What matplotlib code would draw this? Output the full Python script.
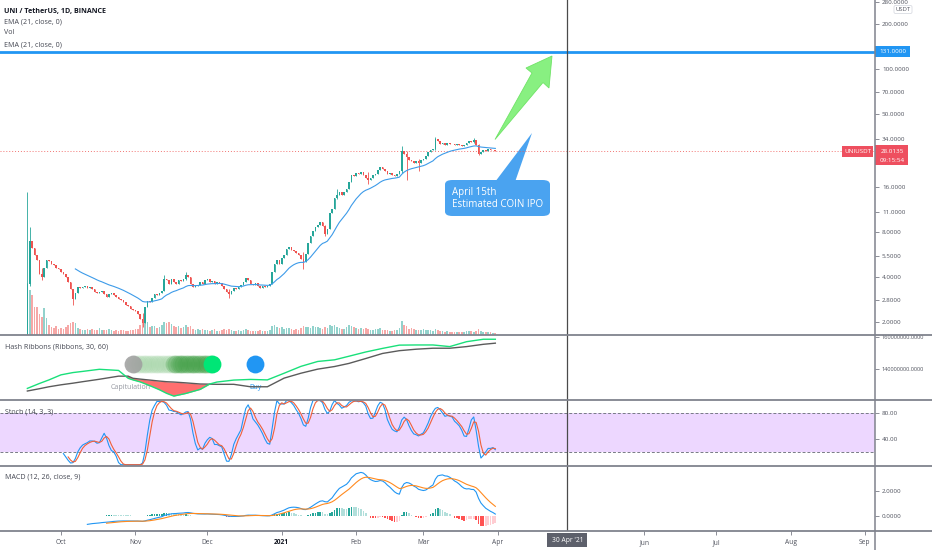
import numpy as np
import pandas as pd
import matplotlib
matplotlib.use('Agg')
import matplotlib.pyplot as plt
import matplotlib.dates as mdates
import matplotlib.ticker as mticker
from matplotlib.patches import Polygon, Rectangle, FancyBboxPatch
from matplotlib.lines import Line2D

plt.rcParams['font.family'] = ['Open Sans', 'DejaVu Sans']

# ------------------------------------------------------------------ data
start_date = '2020-09-17'
first_open = 1.2
closes = [
    3.6, 7.0, 6.3, 5.6, 5.2, 4.2, 4.0, 4.6, 5.2, 5.1,
    4.9, 4.8, 4.6, 4.5, 4.3, 4.2, 4.0, 3.7, 3.3, 2.85,
    3.1, 3.4, 3.35, 3.4, 3.45, 3.35, 3.4, 3.3, 3.15, 3.1,
    3.15, 3.2, 3.05, 2.95, 3.05, 3.1, 3.0, 2.95, 2.85, 2.8,
    2.7, 2.6, 2.55, 2.45, 2.4, 2.35, 2.25, 2.1, 1.95, 2.5,
    2.75, 2.7, 2.9, 3.05, 3.0, 3.1, 3.2, 3.9, 3.8, 3.6,
    3.85, 3.7, 3.6, 3.8, 3.75, 3.85, 4.15, 4.0, 3.6, 3.4,
    3.5, 3.55, 3.7, 3.6, 3.8, 3.85, 3.7, 3.75, 3.6, 3.7,
    3.65, 3.5, 3.3, 3.15, 3.05, 3.2, 3.35, 3.3, 3.4, 3.55,
    3.7, 3.95, 3.8, 3.6, 3.55, 3.65, 3.45, 3.35, 3.5, 3.4,
    3.45, 3.6, 4.3, 4.9, 5.2, 4.9, 5.4, 5.6, 6.2, 6.4,
    6.1, 6.0, 5.8, 5.6, 5.3, 5.0, 5.7, 6.8, 7.5, 8.2,
    8.6, 9.0, 9.3, 8.8, 7.8, 8.4, 10.8, 11.5, 13.5, 14.2,
    14.8, 14.3, 15.0, 15.5, 17.5, 19.5, 19.2, 20.0, 19.6, 20.2,
    19.5, 18.6, 17.8, 18.5, 19.3, 19.8, 21.0, 22.0, 21.3, 20.5,
    19.6, 20.0, 19.4, 19.2, 19.8, 20.5, 28.0, 27.0, 25.5, 24.5,
    24.0, 23.5, 24.0, 23.3, 24.5, 24.8, 26.0, 27.5, 28.5, 28.8,
    33.8, 33.0, 31.5, 31.8, 31.0, 32.0, 31.5, 31.2, 30.8, 31.5,
    31.0, 30.5, 31.0, 32.0, 33.0, 32.5, 33.2, 31.0, 27.0, 27.5,
    28.5, 28.3, 28.8, 28.5, 28.6, 28.0135]
volumes = [
    52, 45, 40, 28, 28, 21, 18, 27, 17, 10,
    8, 7, 9, 6, 7, 6, 8, 10, 12, 13,
    12, 7, 6, 5, 5, 6, 5, 6, 5, 5,
    7, 5, 5, 5, 6, 5, 4, 5, 4, 5,
    5, 4, 4, 5, 5, 6, 6, 10, 15, 20,
    13, 8, 9, 9, 7, 8, 10, 13, 12, 13,
    11, 9, 8, 9, 7, 8, 10, 8, 9, 6,
    5, 6, 5, 6, 5, 5, 4, 5, 6, 4,
    4, 5, 6, 5, 6, 5, 4, 4, 5, 4,
    5, 6, 5, 4, 4, 4, 4, 5, 4, 4,
    4, 5, 9, 10, 8, 7, 8, 6, 7, 7,
    6, 5, 6, 5, 7, 9, 8, 8, 7, 9,
    8, 8, 7, 6, 8, 7, 10, 9, 10, 8,
    7, 6, 6, 8, 10, 9, 8, 7, 6, 7,
    6, 7, 6, 5, 5, 6, 6, 7, 5, 5,
    5, 4, 4, 5, 5, 7, 14, 10, 9, 6,
    7, 6, 5, 5, 5, 6, 5, 5, 5, 4,
    6, 5, 4, 4, 3, 4, 3, 3, 3, 3,
    3, 3, 3, 4, 4, 4, 3, 4, 6, 4,
    3, 3, 3, 3, 2, 2]
wick_idx = [0, 1, 6, 19, 48, 57, 66, 84, 115, 124, 129, 142, 156, 158, 163, 170, 186, 188]
wick_high = [15.0, 8.6, 4.6, 3.3, 2.3, 4.1, 4.3, 3.3, 5.9, 9.0, 15.6, 20.3, 30.5, 28.0, 24.8, 35.0, 34.5, 31.5]
wick_low = [1.2, 3.5, 3.8, 2.6, 1.85, 3.2, 3.8, 2.9, 4.5, 7.5, 13.4, 16.8, 20.0, 18.0, 20.5, 28.5, 32.0, 26.5]

# Hash Ribbons (hash rate, in millions), read at bar indices
hash_idx = [0, 5, 9, 14, 19, 23, 30, 38, 42, 44, 47, 51, 55, 58, 61, 66, 72, 76, 79, 86,
            93, 100, 107, 114, 121, 128, 134, 141, 148, 155, 162, 169, 176, 183, 190, 195]
hash_fast = [128.3, 131.3, 133.5, 136.6, 138.0, 138.7, 140.0, 139.3, 134.5, 133.5, 132.3, 130.0,
             127.5, 125.3, 123.6, 125.2, 127.7, 131.0, 132.2, 133.4, 133.8, 133.5, 137.6, 141.8,
             144.8, 145.8, 148.0, 150.6, 152.8, 154.8, 154.9, 154.9, 153.9, 156.9, 158.4, 158.4]
hash_slow = [126.7, 128.1, 129.3, 130.5, 131.5, 132.4, 133.9, 135.8, 135.8, 134.5, 134.0, 133.4,
             132.8, 132.4, 132.2, 131.7, 131.0, 130.9, 130.8, 130.8, 129.3, 129.3, 134.6, 137.6,
             140.1, 141.7, 143.6, 146.6, 149.7, 151.4, 152.3, 152.9, 152.9, 153.9, 155.3, 156.0]
cap_first_idx = [44]
cap_falling_idx = list(range(45, 61))
cap_rising_idx = list(range(61, 77))
cap_end_idx = [77]
buy_idx = [95]

price_ticks = [2, 2.8, 4, 5.5, 8, 11, 16, 34, 50, 70, 100, 200, 280]
target_price = 131.0
last_price_label = '28.0135'
countdown = '09:15:54'
marker_date = '2021-04-30'
month_ticks = ['2020-10-01', '2020-11-01', '2020-12-01', '2021-01-01', '2021-02-01',
               '2021-03-01', '2021-04-01', '2021-06-01', '2021-07-01', '2021-08-01', '2021-09-01']
month_labels = ['Oct', 'Nov', 'Dec', '2021', 'Feb', 'Mar', 'Apr', 'Jun', 'Jul', 'Aug', 'Sep']

# ------------------------------------------------------------------ helpers
GREEN = '#26a69a'
RED = '#ef5350'
BLUE = '#2196f3'
AXC = '#50535e'
SEP = '#80838d'
FS_AX = 4.5
FS_LEG = 5.1


def ema_sma_seed(vals, n):
    vals = np.asarray(vals, float)
    out = np.full(len(vals), np.nan)
    first = np.argmax(~np.isnan(vals))
    if len(vals) - first < n:
        return out
    a = 2.0 / (n + 1)
    out[first + n - 1] = np.mean(vals[first:first + n])
    for k in range(first + n, len(vals)):
        out[k] = a * vals[k] + (1 - a) * out[k - 1]
    return out


W, H = 932, 550
fig = plt.figure(figsize=(W / 100, H / 100), dpi=100)
fig.patch.set_facecolor('white')


def fr(px0, py0, px1, py1):
    return [px0 / W, 1 - py1 / H, (px1 - px0) / W, (py1 - py0) / H]


XR = 875
ax = fig.add_axes(fr(0, 0, XR, 335))
axh = fig.add_axes(fr(0, 335, XR, 400), sharex=ax)
axs = fig.add_axes(fr(0, 400, XR, 466), sharex=ax)
axm = fig.add_axes(fr(0, 466, XR, 531), sharex=ax)

dates = pd.date_range(start_date, periods=len(closes), freq='D')
x = mdates.date2num(dates)
oct1 = mdates.date2num(pd.Timestamp('2020-10-01'))
xlim = (oct1 - 25.4, oct1 + 339.2)

c = np.array(closes, float)
o = np.array([first_open] + closes[:-1], float)
up = c >= o
cols = np.where(up, GREEN, RED)
hi = np.maximum(o, c)
lo = np.minimum(o, c)
hi_w = hi.copy()
lo_w = lo.copy()
for k, hh, ll in zip(wick_idx, wick_high, wick_low):
    hi_w[k] = max(hi_w[k], hh)
    lo_w[k] = min(lo_w[k], ll)

# ---- volume (twin)
axv = ax.twinx()
vcols = [(38 / 255, 166 / 255, 154 / 255, 0.5) if u else (239 / 255, 83 / 255, 80 / 255, 0.5) for u in up]
axv.bar(x, volumes, width=0.7, color=vcols, lw=0)
axv.set_ylim(0, 335)
axv.axis('off')
ax.set_zorder(axv.get_zorder() + 1)

for a in (ax, axh, axs, axm):
    for s in a.spines.values():
        s.set_visible(False)
    a.yaxis.tick_right()
    a.yaxis.set_label_position('right')
    a.tick_params(axis='y', which='both', left=False, labelleft=False, right=True, labelright=True,
                  direction='out', length=3, width=0.6, color='#787b86',
                  labelsize=FS_AX, labelcolor=AXC, pad=2)
    a.tick_params(axis='x', which='both', bottom=False, labelbottom=False)
    a.patch.set_visible(False)

# ---- candles
ax.set_yscale('log')
ax.vlines(x, lo_w, hi_w, colors=cols, lw=0.6, zorder=3)
ax.bar(x, hi - lo, bottom=lo, width=0.7, color=cols, lw=0, zorder=4)
ema21 = ema_sma_seed(c, 21)
ax.plot(x, ema21, color='#3d9be9', lw=0.8, zorder=5)
ax.axhline(target_price, color=BLUE, lw=2, zorder=6)
ax.axhline(c[-1], color=RED, lw=0.7, ls=(0, (1, 2)), alpha=0.8, zorder=2)
ax.set_ylim(1.627, 291.0)
ax.yaxis.set_major_locator(mticker.FixedLocator(price_ticks))
ax.yaxis.set_minor_locator(mticker.NullLocator())
ax.yaxis.set_major_formatter(mticker.FuncFormatter(lambda v, p: f'{v:.4f}'))
ax.set_xlim(*xlim)

# ---- hash ribbons
hx = x[hash_idx]
hf = np.array(hash_fast) * 1e6
hs = np.array(hash_slow) * 1e6
axh.text(x[43], 129.1e6, 'Capitulation', fontsize=5.0, color='#9598a1', ha='center', va='center', zorder=1)
axh.fill_between(hx, hf, hs, where=hf < hs, interpolate=True, color='#ff5f5f', alpha=0.9, lw=0, zorder=2)
axh.plot(hx, hs, color='#5b5b5b', lw=1.0, zorder=3)
axh.plot(hx, hf, color='#19e07a', lw=1.0, zorder=4)
dot_y = 143.3e6
DS = 165
axh.scatter(x[cap_falling_idx], [dot_y] * len(cap_falling_idx), s=DS, color='#a5d6a7', alpha=0.22, lw=0, zorder=5)
axh.scatter(x[cap_rising_idx], [dot_y] * len(cap_rising_idx), s=DS, color='#43a047', alpha=0.3, lw=0, zorder=5)
axh.scatter(x[cap_first_idx], [dot_y], s=DS, color='#9e9e9e', alpha=0.85, lw=0, zorder=6)
axh.scatter(x[cap_end_idx], [dot_y], s=DS, color='#00e676', lw=0, zorder=6)
axh.scatter(x[buy_idx], [dot_y], s=DS, color=BLUE, lw=0, zorder=6)
axh.text(x[buy_idx[0]], 129.1e6, 'Buy', fontsize=5.0, color=BLUE, ha='center', va='center', zorder=1)
axh.set_ylim(121.2e6, 161e6)
axh.yaxis.set_major_locator(mticker.FixedLocator([140e6, 160e6]))
axh.yaxis.set_major_formatter(mticker.FuncFormatter(lambda v, p: f'{v:.4f}'))
axh.tick_params(axis='y', labelsize=4.1)
axh.text(5 / XR, 1 - 12 / 65, 'Hash Ribbons (Ribbons, 30, 60)', transform=axh.transAxes,
         fontsize=FS_LEG, color='#434651', va='center', ha='left')

# ---- stochastic
hh14 = pd.Series(hi_w).rolling(14).max()
ll14 = pd.Series(lo_w).rolling(14).min()
kraw = 100 * (pd.Series(c) - ll14) / (hh14 - ll14)
kline = kraw.rolling(3).mean()
dline = kline.rolling(3).mean()
axs.axhspan(20, 80, color=(0.6, 0.08, 1.0), alpha=0.17, lw=0)
axs.axhline(80, color='#787b86', lw=0.7, ls=(0, (3, 2)))
axs.axhline(20, color='#787b86', lw=0.7, ls=(0, (3, 2)))
axs.plot(x, kline, color=BLUE, lw=0.8)
axs.plot(x, dline, color='#f0603a', lw=0.8)
axs.set_ylim(-2, 100.8)
axs.yaxis.set_major_locator(mticker.FixedLocator([40, 80]))
axs.yaxis.set_major_formatter(mticker.FuncFormatter(lambda v, p: f'{v:.2f}'))
axs.text(5 / XR, 1 - 12 / 66, 'Stoch (14, 3, 3)', transform=axs.transAxes,
         fontsize=FS_LEG, color='#434651', va='center', ha='left')

# ---- MACD
e12 = ema_sma_seed(c, 12)
e26 = ema_sma_seed(c, 26)
macd = e12 - e26
signal = ema_sma_seed(macd, 9)
hist = macd - signal
hcols = []
for k in range(len(hist)):
    prev = hist[k - 1] if k > 0 else np.nan
    if hist[k] >= 0:
        hcols.append('#26a69a' if (np.isnan(prev) or hist[k] > prev) else '#b2dfdb')
    else:
        hcols.append('#ff5252' if (np.isnan(prev) or hist[k] < prev) else '#ffcdd2')
valid = ~np.isnan(hist)
axm.bar(x[valid], hist[valid], width=0.7, color=np.array(hcols)[valid], lw=0)
axm.plot(x, macd, color=BLUE, lw=0.8)
axm.plot(x, signal, color='#ff8a1f', lw=0.8)
axm.set_ylim(-1.22, 3.98)
axm.yaxis.set_major_locator(mticker.FixedLocator([0, 2]))
axm.yaxis.set_major_formatter(mticker.FuncFormatter(lambda v, p: f'{v:.4f}'))
axm.text(5 / XR, 1 - 11 / 65, 'MACD (12, 26, close, 9)', transform=axm.transAxes,
         fontsize=FS_LEG, color='#434651', va='center', ha='left')

# ---- time axis
mt = mdates.date2num(pd.to_datetime(month_ticks))
axm.xaxis.set_major_locator(mticker.FixedLocator(mt))
axm.xaxis.set_major_formatter(mticker.FixedFormatter(month_labels))
axm.tick_params(axis='x', which='major', bottom=True, labelbottom=True, direction='out',
                length=3, width=0.6, color='#787b86', labelsize=4.8, labelcolor=AXC, pad=3)
for lab in axm.get_xticklabels():
    if lab.get_text() == '2021':
        lab.set_fontweight('bold')
        lab.set_color('#131722')

# ---- vertical marker line
xm = mdates.date2num(pd.Timestamp(marker_date))
for a in (ax, axh, axs, axm):
    a.axvline(xm, color='#4a4a4a', lw=0.9, zorder=7)

# ---- separators
for py in (335, 400, 466, 531):
    fig.add_artist(Line2D([0, 1], [1 - py / H, 1 - py / H], transform=fig.transFigure, color=SEP, lw=1.3))
fig.add_artist(Line2D([XR / W, XR / W], [0, 1], transform=fig.transFigure, color=SEP, lw=1.1))

# ---- legend texts
fig.text(4 / W, 1 - 11 / H, 'UNI / TetherUS, 1D, BINANCE', fontsize=FS_LEG, weight='bold', color='#131722', va='center')
fig.text(4 / W, 1 - 22 / H, 'EMA (21, close, 0)', fontsize=FS_LEG, color='#434651', va='center')
fig.text(4 / W, 1 - 33 / H, 'Vol', fontsize=FS_LEG, color='#434651', va='center')
fig.text(4 / W, 1 - 45 / H, 'EMA (21, close, 0)', fontsize=FS_LEG, color='#434651', va='center')


def ypix(axis, v):
    return axis.transData.transform((axis.get_xlim()[0], v))[1]


def xpix(axis, v):
    return axis.transData.transform((v, 1))[0]


def rect_px(x0, ytop, x1, ybot, color, **kw):
    fig.add_artist(Rectangle((x0 / W, 1 - ybot / H), (x1 - x0) / W, (ybot - ytop) / H,
                             transform=fig.transFigure, color=color, lw=0, **kw))


# 131 label
yb = H - ypix(ax, target_price)
rect_px(XR, yb - 5.5, 910, yb + 5.5, BLUE)
fig.text(893 / W, 1 - yb / H, f'{target_price:.4f}', fontsize=FS_AX, color='white', ha='center', va='center')
# current price label
yp = H - ypix(ax, c[-1])
rect_px(XR, yp - 6, 908, yp + 14, '#ee4f5f')
fig.text(892 / W, 1 - yp / H, last_price_label, fontsize=FS_AX, color='white', ha='center', va='center')
fig.text(892 / W, 1 - (yp + 9) / H, countdown, fontsize=FS_AX, color='white', ha='center', va='center')
rect_px(842, yp - 5.5, 873, yp + 5.5, '#ee4f5f')
fig.text(857.5 / W, 1 - yp / H, 'UNIUSDT', fontsize=4.5, color='white', ha='center', va='center')
# USDT box
fig.text(903 / W, 1 - 9.5 / H, 'USDT', fontsize=4.2, color=AXC, ha='center', va='center',
         bbox=dict(boxstyle='round,pad=0.25', fc='white', ec='#d1d4dc', lw=0.5))
# date label
xd = xpix(axm, xm)
rect_px(xd - 20, 533, xd + 20, 547, '#5d606b')
fig.text(xd / W, 1 - 540 / H, "30 Apr '21", fontsize=4.8, color='white', ha='center', va='center')

# ---- drawings: green arrow and callout


def poly_px(pts, **kw):
    fig.add_artist(Polygon([(px / W, 1 - py / H) for px, py in pts], closed=True,
                           transform=fig.transFigure, **kw))


poly_px([(495, 139.5), (543, 82.5), (549, 88), (552, 56), (526, 68), (532, 73)],
        fc='#82f07a', ec='#6be262', lw=0.6, alpha=0.95)
CALL = '#4aa3f0'
poly_px([(495, 182), (532, 133), (515, 182)], fc=CALL, ec='none')
fig.add_artist(FancyBboxPatch((445 / W, 1 - 216 / H), 105 / W, 36 / H,
                              boxstyle='round,pad=0,rounding_size=0.008',
                              transform=fig.transFigure, fc=CALL, ec='none'))
fig.text(452 / W, 1 - 192 / H, 'April 15th', fontsize=7, color='white', ha='left', va='center')
fig.text(452 / W, 1 - 204.5 / H, 'Estimated COIN IPO', fontsize=7, color='white', ha='left', va='center')

fig.savefig('out.png', dpi=100, facecolor='white')
